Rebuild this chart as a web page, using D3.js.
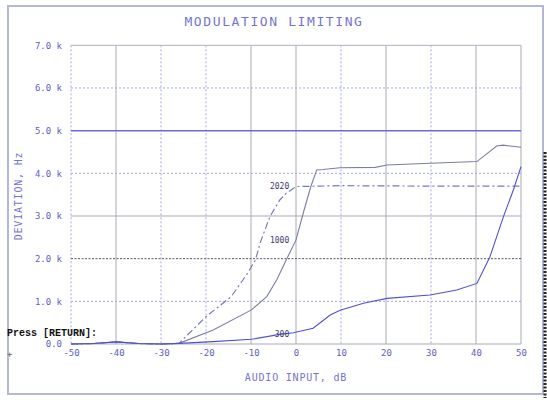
<!DOCTYPE html>
<html><head><meta charset="utf-8">
<script src="https://cdn.jsdelivr.net/npm/d3@7"></script>
<style>html,body{margin:0;padding:0;background:#fff;}svg{display:block;}</style>
</head><body>
<script>
// ---- data ----
const title = "MODULATION LIMITING";
const xLabel = "AUDIO INPUT, dB";
const yLabel = "DEVIATION, Hz";
const xTicks = [-50,-40,-30,-20,-10,0,10,20,30,40,50];
const xTickLabels = ["-50","-40","-30","-20","-10","0","10","20","30","40","50"];
const yTicks = [0,1000,2000,3000,4000,5000,6000,7000];
const yTickLabels = ["0.0","1.0 k","2.0 k","3.0 k","4.0 k","5.0 k","6.0 k","7.0 k"];
const seriesNames = ["2020","1000","300"];
const s2020X = [-50,-45,-40,-35,-30,-26,-20,-14.4,-11,-9,-8,-5.8,-3.6,-2.2,0,5,10,20,30,40,50];
const s2020Y = [0,10,50,10,0,15,640,1110,1620,1970,2360,2985,3375,3530,3690,3700,3710,3705,3700,3700,3700];
const s1000X = [-50,-45,-40,-35,-30,-26,-18.4,-9.9,-6.5,-4.3,-2.1,0,1.8,3.3,4.6,6,9.8,17.6,20.2,29.8,40.2,44.6,46,50];
const s1000Y = [0,10,50,10,0,15,330,800,1110,1500,1985,2440,3140,3690,4080,4090,4130,4140,4195,4235,4275,4640,4660,4610];
const s300X = [-50,-45,-40,-35,-30,-26,-18.4,-9.9,-3.6,-0.6,3.8,7.6,9.8,15,20.2,29.8,35.7,40.2,43.1,46.1,48.3,50];
const s300Y = [0,10,50,10,0,15,55,110,225,265,368,680,790,955,1070,1150,1265,1420,2045,2985,3610,4155];
const labelX = [-1.5,-1.5,-1.5];
const labelY = [3700,2440,235];
const limitLevel = 5000;
const promptText = "Press [RETURN]:";

// ---- drawing ----
const W = 547, H = 404;
const svg = d3.select("body").append("svg").attr("width",W).attr("height",H);
const x = d3.scaleLinear().domain([-50,50]).range([71,521]);
const y = d3.scaleLinear().domain([0,7000]).range([344,45.3]);
const mono = "'DejaVu Sans Mono', 'Liberation Mono', monospace";

// outer frame
svg.append("rect").attr("x",8).attr("y",6).attr("width",535).attr("height",388)
  .attr("fill","none").attr("stroke","#b4b8d8").attr("stroke-width",2);

// title
svg.append("text").attr("x",274).attr("y",26).attr("text-anchor","middle")
  .attr("font-family",mono).attr("font-size",13).attr("letter-spacing",1.6)
  .attr("fill","#7474d0").text(title);

// grid styles
const solidX = new Set([-40,-10,0,20,40,50]);
const g = svg.append("g");
xTicks.forEach(v=>{
  const solid = solidX.has(v);
  g.append("line").attr("x1",x(v)).attr("x2",x(v)).attr("y1",y(7000)).attr("y2",y(0))
    .attr("stroke", solid ? "#a9a9b6" : "#a5a5ee")
    .attr("stroke-dasharray", solid ? null : "2,2");
});
const hStyle = {0:["#a9a9b6",null,1],1000:["#a5a5ee","2,2",1],2000:["#555566","2,1.5",1],
  3000:["#a9a9b6",null,1],4000:["#a5a5ee","2,2",1],5000:["#6b6be0",null,1.5],
  6000:["#a5a5ee","2,2",1],7000:["#b0b0bc",null,1]};
yTicks.forEach(v=>{
  const s = hStyle[v];
  g.append("line").attr("x1",x(-50)).attr("x2",x(50)).attr("y1",y(v)).attr("y2",y(v))
    .attr("stroke",s[0]).attr("stroke-dasharray",s[1]).attr("stroke-width",s[2]);
});

// axes via d3
const xAxis = d3.axisBottom(x).tickValues(xTicks).tickSize(0).tickPadding(6)
  .tickFormat((d,i)=>xTickLabels[i]);
const gx = svg.append("g").attr("transform",`translate(0,${y(0)})`).call(xAxis);
gx.select(".domain").remove();
gx.selectAll("text").attr("font-family",mono).attr("font-size",9).attr("fill","#6060c0");

const yAxis = d3.axisLeft(y).tickValues(yTicks).tickSize(0).tickPadding(9)
  .tickFormat((d,i)=>yTickLabels[i]);
const gy = svg.append("g").attr("transform",`translate(${x(-50)},0)`).call(yAxis);
gy.select(".domain").remove();
gy.selectAll("text").attr("font-family",mono).attr("font-size",9).attr("fill","#6060c0");

// axis titles
svg.append("text").attr("x",296).attr("y",381).attr("text-anchor","middle")
  .attr("font-family",mono).attr("font-size",10).attr("letter-spacing",0.8)
  .attr("fill","#7474d0").text(xLabel);
svg.append("text").attr("transform","translate(22,196) rotate(-90)").attr("text-anchor","middle")
  .attr("font-family",mono).attr("font-size",10).attr("letter-spacing",0.8)
  .attr("fill","#7474d0").text(yLabel);

// curves
const line = d3.line().x(d=>x(d[0])).y(d=>y(d[1]));
const zip = (a,b)=>a.map((v,i)=>[v,b[i]]);
const curves = [
  {d:zip(s2020X,s2020Y), c:"#7a7ab8", dash:"7,3,2,3", w:1.2},
  {d:zip(s1000X,s1000Y), c:"#7c7ca8", dash:null, w:1.1},
  {d:zip(s300X,s300Y), c:"#5050d0", dash:null, w:1.1}
];
curves.forEach(cv=>{
  svg.append("path").attr("d",line(cv.d)).attr("fill","none")
    .attr("stroke",cv.c).attr("stroke-width",cv.w).attr("stroke-dasharray",cv.dash);
});

// curve labels
seriesNames.forEach((n,i)=>{
  svg.append("text").attr("x",x(labelX[i])).attr("y",y(labelY[i])+3)
    .attr("text-anchor","end").attr("font-family",mono).attr("font-size",8)
    .attr("fill","#3a3a70").text(n);
});

// prompt & artifacts
svg.append("text").attr("x",7).attr("y",335.5).attr("font-family","'Liberation Mono', monospace")
  .attr("font-weight","bold").attr("font-size",10).attr("fill","#111").text(promptText);
svg.append("text").attr("x",7).attr("y",357).attr("font-family",mono).attr("font-size",9)
  .attr("fill","#666").text("+");
svg.append("line").attr("x1",545).attr("x2",545).attr("y1",152).attr("y2",398)
  .attr("stroke","#222").attr("stroke-width",3).attr("stroke-dasharray","2,1.5");
</script>
</body></html>
